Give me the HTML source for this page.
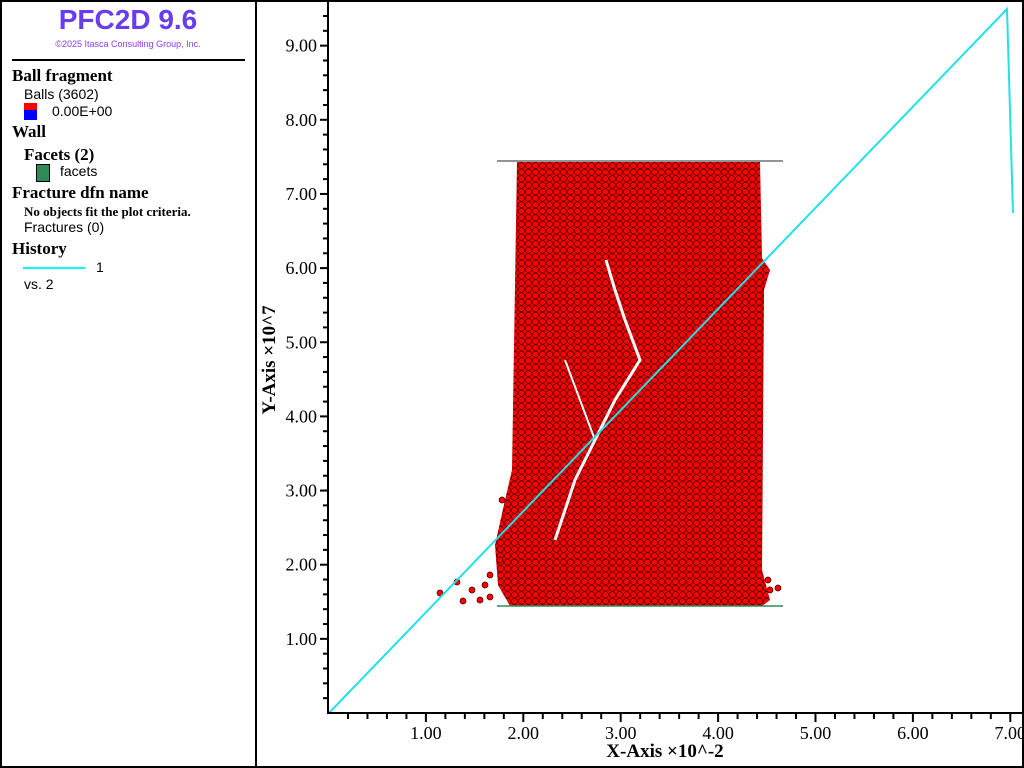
<!DOCTYPE html>
<html><head><meta charset="utf-8"><style>
body{margin:0;width:1024px;height:768px;overflow:hidden;background:#fff;font-family:"Liberation Sans",sans-serif}
.t{position:absolute;white-space:nowrap}
.s{font-family:"Liberation Serif",serif;font-weight:bold}
</style></head><body>
<div style="position:absolute;left:0;top:0;width:1020px;height:764px;border:2px solid #000"></div>
<div style="position:absolute;left:255px;top:0;width:2px;height:768px;background:#000"></div>
<div class="t" style="left:0;width:256px;text-align:center;top:4px;font-size:28px;font-weight:bold;color:#6a3cf0">PFC2D 9.6</div>
<div class="t" style="left:0;width:256px;text-align:center;top:39px;font-size:9px;color:#8a3cf0">©2025 Itasca Consulting Group, Inc.</div>
<div style="position:absolute;left:12px;top:59px;width:233px;height:2px;background:#000"></div>
<div class="t s" style="left:12px;top:66px;font-size:17px">Ball fragment</div>
<div class="t" style="left:24px;top:86px;font-size:14px">Balls (3602)</div>
<div style="position:absolute;left:24px;top:103px;width:13px;height:7px;background:#f00"></div>
<div style="position:absolute;left:24px;top:110px;width:13px;height:10px;background:#00f"></div>
<div class="t" style="left:52px;top:103px;font-size:14px">0.00E+00</div>
<div class="t s" style="left:12px;top:122px;font-size:17px">Wall</div>
<div class="t s" style="left:24px;top:145px;font-size:17px">Facets (2)</div>
<div style="position:absolute;left:36px;top:164px;width:12px;height:16px;background:#2e8b57;border:1px solid #000"></div>
<div class="t" style="left:60px;top:163px;font-size:14px">facets</div>
<div class="t s" style="left:12px;top:183px;font-size:17px">Fracture dfn name</div>
<div class="t s" style="left:24px;top:204px;font-size:13px">No objects fit the plot criteria.</div>
<div class="t" style="left:24px;top:219px;font-size:14px">Fractures (0)</div>
<div class="t s" style="left:12px;top:239px;font-size:17px">History</div>
<div style="position:absolute;left:23px;top:267px;width:62px;height:2px;background:#0ff"></div>
<div class="t" style="left:96px;top:259px;font-size:14px">1</div>
<div class="t" style="left:24px;top:276px;font-size:14px">vs. 2</div>
<svg width="1024" height="768" style="position:absolute;left:0;top:0">
<defs><pattern id="b" width="7" height="6.5" patternUnits="userSpaceOnUse">
<rect width="7" height="6.5" fill="#e00"/>
<circle cx="3.5" cy="3.2" r="3" fill="#f00" stroke="#300" stroke-width="0.6"/>
</pattern></defs>
<path d="M517 162 L760 162 L762 258 L770 270 L764 290 L762 570 L770 600 L762 606 L510 606 L498 585 L495 545 L505 500 L512 470 Z" fill="url(#b)"/>
<g fill="#f00" stroke="#300" stroke-width="0.7">
<circle cx="440" cy="593" r="3"/><circle cx="463" cy="601" r="3"/><circle cx="472" cy="590" r="3"/><circle cx="485" cy="585" r="3"/><circle cx="490" cy="575" r="3"/><circle cx="490" cy="597" r="3"/><circle cx="480" cy="600" r="3"/><circle cx="770" cy="590" r="3"/><circle cx="778" cy="588" r="3"/><circle cx="768" cy="580" r="3"/><circle cx="500" cy="560" r="3"/><circle cx="502" cy="500" r="3"/><circle cx="457" cy="582" r="3"/>
</g>
<path d="M606 260 L615 290 L625 320 L640 360 L615 400 L595 440 L575 480 L555 540" stroke="#fff" stroke-width="3" fill="none"/>
<path d="M565 360 L580 400 L595 440" stroke="#fff" stroke-width="2" fill="none"/>
<line x1="497" y1="161" x2="783" y2="161" stroke="#555" stroke-width="1.2"/>
<line x1="497" y1="606" x2="783" y2="606" stroke="#2e8b57" stroke-width="1.5"/>
<polyline points="329,713 1007,9 1013,213" fill="none" stroke="#22e0e8" stroke-width="2"/>
<line x1="328" y1="0" x2="328" y2="714" stroke="#000" stroke-width="2"/>
<line x1="327" y1="713" x2="1022" y2="713" stroke="#000" stroke-width="2"/>
<g stroke="#000" stroke-width="2" id="ticks"></g>
<g font-family="Liberation Serif" font-size="18" text-anchor="end" id="yl"></g>
<g font-family="Liberation Serif" font-size="18" text-anchor="middle" id="xl"></g>
<text x="665" y="757" font-family="Liberation Serif" font-size="19" font-weight="bold" text-anchor="middle">X-Axis ×10^-2</text>
<text transform="translate(275,360) rotate(-90)" font-family="Liberation Serif" font-size="19" font-weight="bold" text-anchor="middle">Y-Axis ×10^7</text>
</svg>
<script>
var ns="http://www.w3.org/2000/svg",tk=document.getElementById("ticks"),yl=document.getElementById("yl"),xl=document.getElementById("xl");
function L(a,b,c,d){var l=document.createElementNS(ns,"line");l.setAttribute("x1",a);l.setAttribute("y1",b);l.setAttribute("x2",c);l.setAttribute("y2",d);tk.appendChild(l);}
function T(g,x,y,s){var t=document.createElementNS(ns,"text");t.setAttribute("x",x);t.setAttribute("y",y);t.textContent=s;g.appendChild(t);}
for(var i=1;i<=47;i++){var y=713-i*74.15/5;if(y<2)break;var maj=i%5==0;L(328,y,maj?320:323,y);if(maj)T(yl,317,y+6,(i/5).toFixed(2));}
for(var i=1;i<=35;i++){var x=328.5+i*97.4/5;var maj=i%5==0;L(x,713,x,maj?722:719);if(maj)T(xl,x,739,(i/5).toFixed(2));}
</script>
</body></html>
